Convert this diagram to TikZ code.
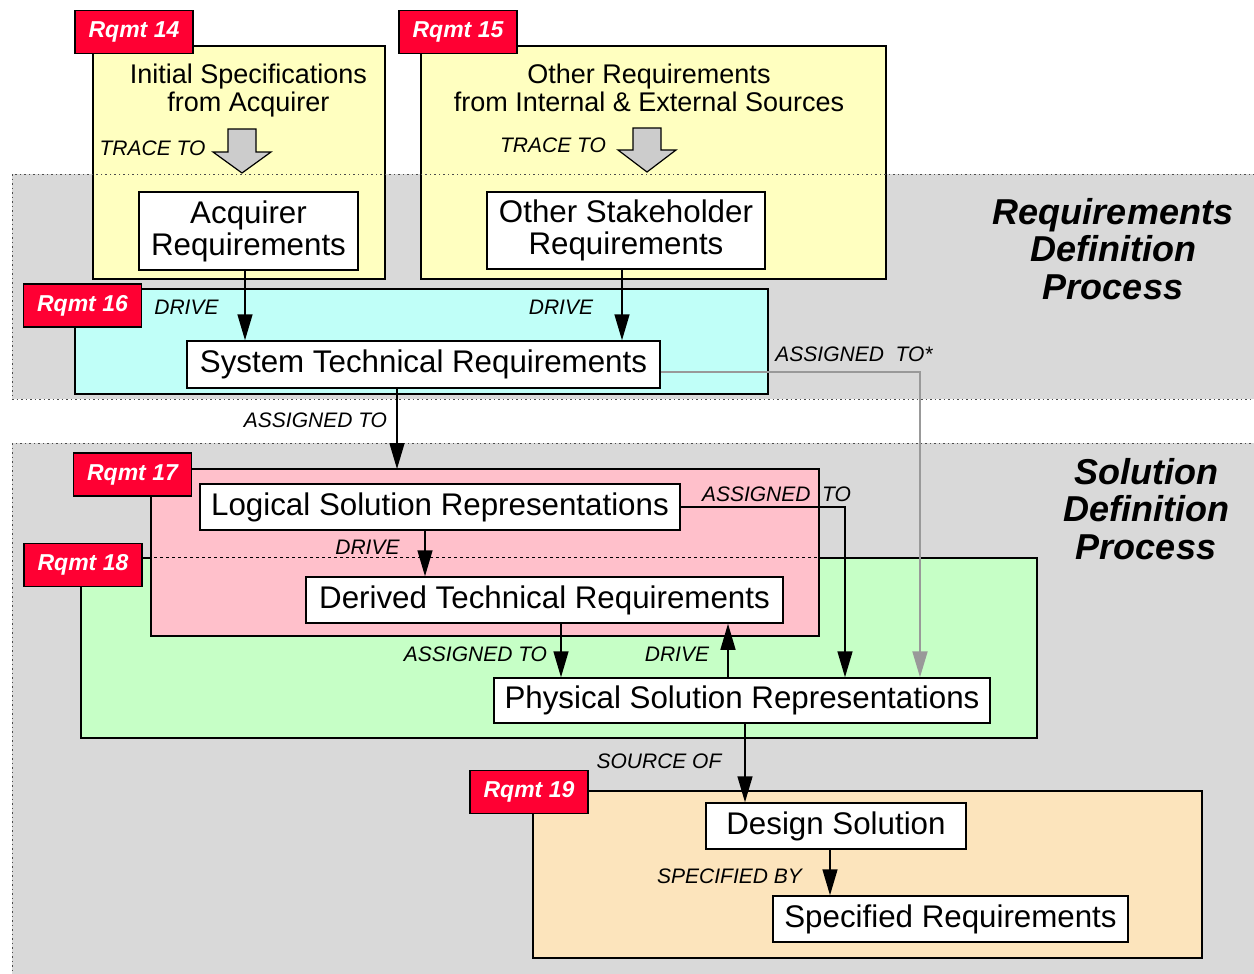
\documentclass[tikz,border=0pt]{standalone}
\usepackage{fontspec}
\setmainfont{Liberation Sans}
\usetikzlibrary{arrows.meta}

\definecolor{procgray}{RGB}{217,217,217}
\definecolor{srcyellow}{RGB}{255,255,192}
\definecolor{stcyan}{RGB}{192,255,248}
\definecolor{logpink}{RGB}{255,192,203}
\definecolor{phygreen}{RGB}{198,255,198}
\definecolor{despeach}{RGB}{252,228,188}
\definecolor{tagred}{RGB}{255,0,51}

\tikzset{
  area/.style={line width=1.5pt},
  procborder/.style={draw=black!70, line width=1pt, dash pattern=on 1.5pt off 3pt},
  reqbox/.style={draw, fill=white, line width=1.5pt, inner sep=0pt, align=center, font=\fontsize{31.3}{32}\selectfont},
  srctext/.style={align=center, inner sep=0pt, font=\fontsize{27}{28}\selectfont},
  rqmt/.style={draw, fill=tagred, line width=1.5pt, text=white, minimum width=118pt, minimum height=43pt, inner sep=0pt, font=\fontsize{23}{23}\selectfont\bfseries\itshape},
  rel/.style={inner sep=0pt, font=\fontsize{21}{21}\selectfont\itshape},
  proctitle/.style={align=center, inner sep=0pt, font=\fontsize{36}{37.5}\selectfont\bfseries\itshape},
  arr/.style={line width=1.5pt, -{Triangle[length=26pt,width=15pt]}},
  arrgray/.style={arr, line width=2pt, draw=gray!80},
  tracearrow/.style={draw, line width=1.2pt, fill=gray!40}
}

\begin{document}
\begin{tikzpicture}[x=1pt, y=-1pt]
        \clip (0,0) rectangle (1254,974);

        % Process areas
        \fill[procgray] (12,174) rectangle (1270,399);
        \fill[procgray] (12,443) rectangle (1270,990);

        % Sources (Rqmt 14 and 15)
        \draw[area, fill=srcyellow] (93,46) rectangle (385,279);
        \draw[area, fill=srcyellow] (421,46) rectangle (886,279);
        \node[srctext] (init) at (248.5,91) {Initial Specifications\\from Acquirer};
        \node[srctext] (other) at (649,88) {Other Requirements\\from Internal \& External Sources};

        % Trace to arrows
        \draw[tracearrow] (228,129) -- (256,129) -- (256,152) -- (271,152) -- (242,173) -- (213,152) -- (228,152) -- cycle;
        \draw[tracearrow] (633,128) -- (661,128) -- (661,150) -- (676,150) -- (647,172) -- (618,150) -- (633,150) -- cycle;
        \node[rel] (trace1) at (152.5,148) {TRACE TO};
        \node[rel] (trace2) at (553,145) {TRACE TO};

        % System technical area (Rqmt 16)
        \draw[area, fill=stcyan] (75,289) rectangle (768,394);

        % Solution areas (Rqmt 17, 18, 19)
        \draw[area, fill=phygreen] (81,558) rectangle (1037,738);
        \draw[area, fill=logpink] (151,469) rectangle (819,636);
        \draw[dashed, line width=1pt] (142,557) -- (819,557);
        \draw[area, fill=despeach] (533,791) rectangle (1202,958);

        % Process borders
        \draw[procborder] (12,174) rectangle (1270,399);
        \draw[procborder] (12,443) rectangle (1270,990);

        % Requirement tags
        \node[rqmt] (r14) at (134,32) {Rqmt 14};
        \node[rqmt] (r15) at (458,32) {Rqmt 15};
        \node[rqmt] (r16) at (82.5,305.5) {Rqmt 16};
        \node[rqmt] (r17) at (132.5,474.5) {Rqmt 17};
        \node[rqmt] (r18) at (83,565) {Rqmt 18};
        \node[rqmt] (r19) at (529,792) {Rqmt 19};

        % Requirement boxes
        \node[reqbox, minimum width=219pt, minimum height=78pt] (acq) at (248.5,231) {Acquirer\\Requirements};
        \node[reqbox, minimum width=278pt, minimum height=77pt] (stake) at (626,230.5) {Other Stakeholder\\Requirements};
        \node[reqbox, minimum width=473pt, minimum height=47pt] (str) at (423.5,364.5) {System Technical Requirements};
        \node[reqbox, minimum width=480pt, minimum height=46pt] (log) at (440,507) {Logical Solution Representations};
        \node[reqbox, minimum width=477pt, minimum height=46pt] (der) at (544.5,600) {Derived Technical Requirements};
        \node[reqbox, minimum width=496pt, minimum height=45pt] (phys) at (742,700.5) {Physical Solution Representations};
        \node[reqbox, minimum width=260pt, minimum height=46pt] (des) at (836,826) {Design Solution};
        \node[reqbox, minimum width=355pt, minimum height=46pt] (spec) at (950.5,919) {Specified Requirements};

        % Helper points
        \coordinate (t17) at (397,469); % top of logical area
        \coordinate (x920) at (920,0);
        \coordinate (x845) at (845,0);
        \coordinate (x728) at (728,0);

        % Connectors
        \draw[arr] ([xshift=-3.5pt]acq.south) -- ([xshift=-3.5pt]acq.south |- str.north);
        \draw[arr] ([xshift=-4pt]stake.south) -- ([xshift=-4pt]stake.south |- str.north);
        \draw[arr] (str.south -| t17) -- (t17);
        \draw[arrgray] ([yshift=-7pt]str.east) -| (phys.north -| x920);
        \draw[arr] ([xshift=-15pt]log.south) -- ([xshift=-15pt]log.south |- der.north);
        \draw[arr] (log.east) -| (phys.north -| x845);
        \draw[arr] ([xshift=16.5pt]der.south) -- ([xshift=16.5pt]der.south |- phys.north);
        \draw[arr] (phys.north -| x728) -- (der.south -| x728);
        \draw[arr] ([xshift=3pt]phys.south) -- ([xshift=3pt]phys.south |- des.north);
        \draw[arr] ([xshift=-6pt]des.south) -- ([xshift=-6pt]des.south |- spec.north);

        % Connector labels
        \node[rel] (drive1) at (186.5,307) {DRIVE};
        \node[rel] (drive2) at (561,307) {DRIVE};
        \node[rel] (asg1) at (854,354) {ASSIGNED~~TO*};
        \node[rel] (asg2) at (315.5,420) {ASSIGNED TO};
        \node[rel] (asg3) at (776.5,494) {ASSIGNED~~TO};
        \node[rel] (drive3) at (367.5,547) {DRIVE};
        \node[rel] (asg4) at (475.5,654) {ASSIGNED TO};
        \node[rel] (drive4) at (677,654) {DRIVE};
        \node[rel] (src) at (659,761) {SOURCE OF};
        \node[rel] (specby) at (729.5,876) {SPECIFIED BY};

        % Process titles
        \node[proctitle] (rdp) at (1113,249) {Requirements\\Definition\\Process};
        \node[proctitle] (sdp) at (1146,509) {Solution\\Definition\\Process};

\end{tikzpicture}
\end{document}
